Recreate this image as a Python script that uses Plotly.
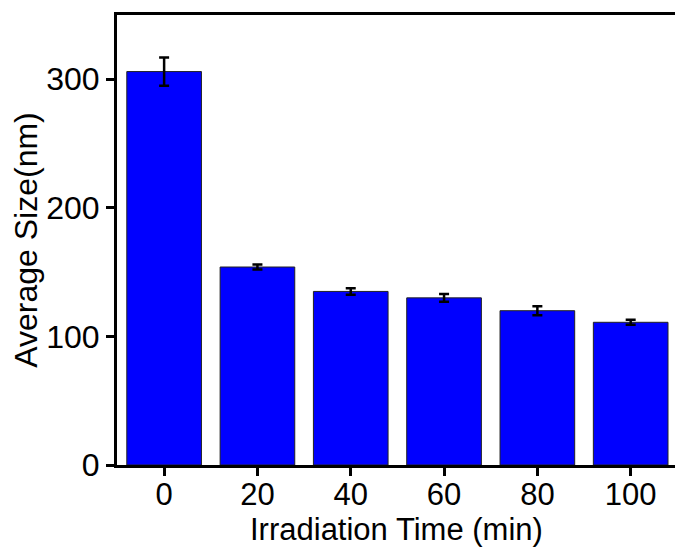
import plotly.graph_objects as go

# Irradiation time (min) and measured average particle size (nm)
times = [0, 20, 40, 60, 80, 100]
sizes = [306, 154, 135, 130, 120, 111]
errors = [11, 2, 2.5, 3, 3.5, 2]
tick_labels = ["0", "20", "40", "60", "80", "100"]
x_title = "Irradiation Time (min)"
y_title = "Average Size(nm)"

FONT = "Liberation Sans, Arial, sans-serif"

fig = go.Figure(
    go.Bar(
        x=times,
        y=sizes,
        width=16,
        marker=dict(color="#0000FF", line=dict(color="#222222", width=1)),
        error_y=dict(type="data", array=errors, visible=True,
                     color="black", thickness=2.5, width=5),
    )
)

fig.update_layout(
    width=675,
    height=550,
    margin=dict(l=117, r=0, t=15, b=85),
    paper_bgcolor="white",
    plot_bgcolor="white",
    showlegend=False,
    font=dict(family=FONT, size=32, color="black"),
    xaxis=dict(
        range=[-10.1, 109.5],
        tickmode="array",
        tickvals=times,
        ticktext=tick_labels,
        showline=True,
        linecolor="black",
        linewidth=3,
        mirror=True,
        ticks="outside",
        ticklen=8,
        tickwidth=3,
        tickcolor="black",
        showgrid=False,
        zeroline=False,
        ticklabelstandoff=-8,
        tickfont=dict(family=FONT, size=31),
    ),
    yaxis=dict(
        range=[0, 350],
        tickvals=[0, 100, 200, 300],
        showline=True,
        linecolor="black",
        linewidth=3,
        ticks="outside",
        ticklen=8,
        tickwidth=3,
        tickcolor="black",
        showgrid=False,
        zeroline=False,
        tickfont=dict(family=FONT, size=32),
        title=dict(text=y_title, standoff=0,
                   font=dict(family=FONT, size=32)),
    ),
)

# x-axis title placed just beneath the tick labels
fig.add_annotation(
    text=x_title,
    xref="paper", yref="paper",
    x=0.5, y=0,
    xanchor="center", yanchor="top",
    yshift=-45,
    showarrow=False,
    font=dict(family=FONT, size=31, color="black"),
)

fig.write_html("out.html")
